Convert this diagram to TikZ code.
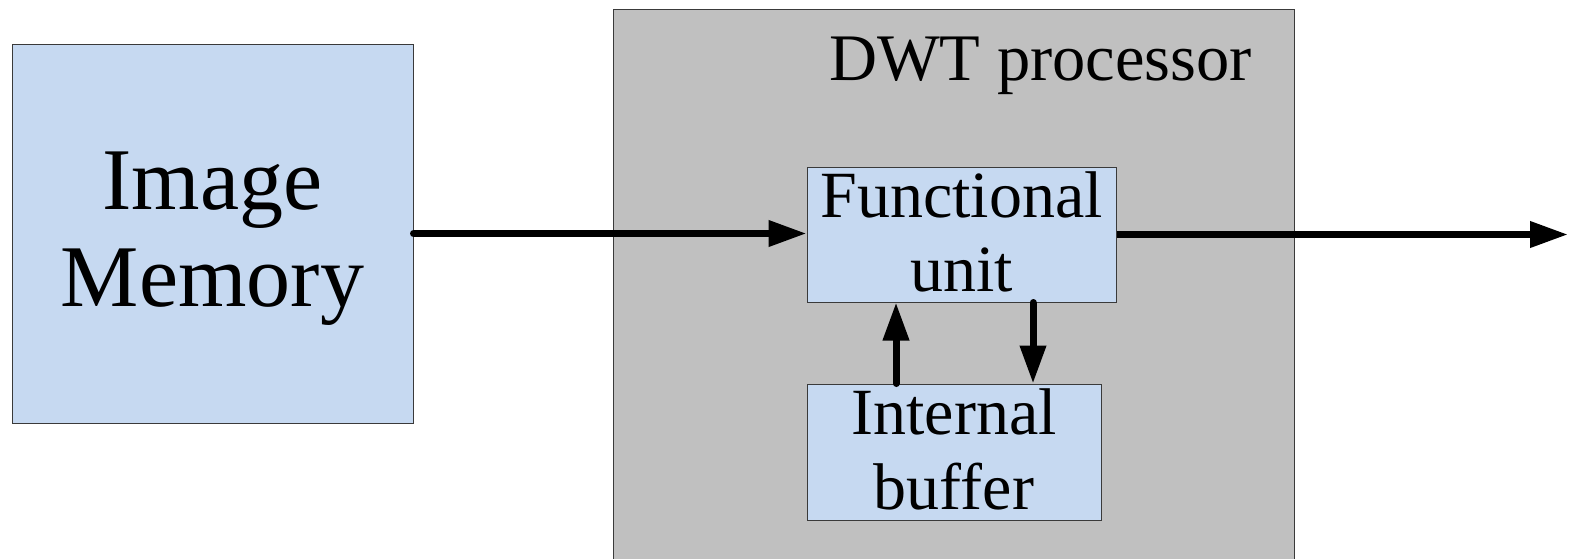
\documentclass[tikz,border=0pt]{standalone}
\usepackage{fontspec}
\setmainfont{Liberation Serif}
\usetikzlibrary{arrows.meta}
\definecolor{boxblue}{HTML}{C6D9F1}
\definecolor{procgrey}{HTML}{C0C0C0}
\definecolor{edgegrey}{HTML}{3A3A3A}
\tikzset{
  blockbox/.style={draw=edgegrey, line width=1pt, fill=boxblue, inner sep=0pt},
  blocktext/.style={inner sep=0pt, align=center, text=black},
  procbox/.style={draw=edgegrey, line width=1pt, fill=procgrey, inner sep=0pt},
  flow/.style={line width=7pt, line cap=round, -{Triangle[length=38pt,width=25pt]}},
}
\begin{document}
\begin{tikzpicture}[x=1pt,y=-1pt]
\useasboundingbox (0,0) rectangle (1577,558);
% processor enclosure (runs past the bottom edge)
\node[procbox, minimum width=681pt, minimum height=580pt, anchor=north west] (dwt) at (613,9) {};
\node[anchor=base, font=\fontsize{66.5}{70}\selectfont] (dwtlabel) at (1040.5,80) {DWT processor};
% blocks
\node[blockbox, minimum width=401pt, minimum height=379pt] (mem) at (212.5,233.5) {};
\node[blockbox, minimum width=309pt, minimum height=135pt] (fu) at (961.5,234.5) {};
\node[blockbox, minimum width=294pt, minimum height=136pt] (ib) at (954,452) {};
% block captions
\node[blocktext, font=\fontsize{88}{97}\selectfont] (memtext) at (212.5,239) {Image\\Memory};
\node[blocktext, font=\fontsize{66}{74}\selectfont] (futext) at (961.5,232) {Functional\\unit};
\node[blocktext, font=\fontsize{66}{75}\selectfont] (ibtext) at (954,449.5) {Internal\\buffer};
% helper points
\coordinate (upx) at (896,0);
\coordinate (downx) at (1033,0);
\coordinate (out) at (1568,234.5);
% connectors
\draw[flow] (mem.east) -- (mem.east -| fu.west);
\draw[flow, line cap=butt] (fu.east) -- (out);
\draw[flow] (ib.north -| upx) -- (fu.south -| upx);
\draw[flow] (fu.south -| downx) -- (ib.north -| downx);
\end{tikzpicture}
\end{document}
